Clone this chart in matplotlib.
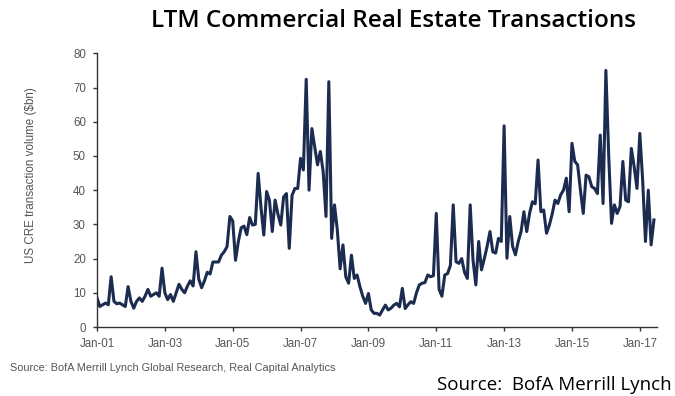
import matplotlib
matplotlib.use("Agg")
import matplotlib.pyplot as plt

# Monthly LTM US commercial real estate transaction volume ($bn), Jan-2001 onward
volume = [
    # 2001
    8.5, 6.0, 6.5, 7.0, 6.5, 14.7, 7.5, 6.8, 7.0, 6.5, 6.0, 11.8,
    # 2002
    7.5, 5.5, 7.5, 8.5, 7.5, 9.0, 11.0, 9.0, 9.5, 10.0, 9.0, 17.2,
    # 2003
    10.0, 8.0, 9.5, 7.5, 10.0, 12.5, 11.0, 10.0, 12.0, 13.5, 12.0, 22.0,
    # 2004
    14.0, 11.5, 13.5, 16.0, 15.5, 19.0, 19.0, 19.0, 21.0, 22.0, 23.5, 32.3,
    # 2005
    31.0, 19.5, 25.0, 29.0, 29.5, 27.0, 32.0, 29.8, 30.0, 44.9, 35.0, 26.9,
    # 2006
    39.6, 37.0, 27.9, 37.1, 33.0, 29.8, 38.0, 39.0, 23.0, 38.5, 40.5, 40.5,
    # 2007
    49.3, 45.9, 72.4, 40.0, 58.0, 52.6, 47.4, 51.3, 45.4, 32.3, 71.7, 25.9,
    # 2008
    35.7, 28.4, 17.0, 24.0, 14.7, 12.8, 21.0, 14.2, 15.2, 11.8, 9.0, 6.9,
    # 2009
    9.8, 5.0, 4.0, 4.0, 3.5, 5.0, 6.4, 5.0, 5.5, 6.4, 6.9, 5.9,
    # 2010
    11.3, 5.4, 6.5, 7.4, 6.9, 10.0, 12.3, 12.8, 13.0, 15.2, 14.7, 15.0,
    # 2011
    33.2, 11.0, 9.0, 15.2, 15.6, 18.0, 35.7, 19.1, 18.6, 20.0, 16.0, 14.2,
    # 2012
    35.7, 19.6, 12.3, 25.0, 16.7, 20.0, 23.6, 27.9, 22.0, 21.6, 25.9, 25.0,
    # 2013
    58.8, 20.1, 32.3, 23.6, 21.1, 25.0, 27.9, 33.7, 27.9, 33.2, 36.6, 36.0,
    # 2014
    48.8, 33.7, 34.2, 27.4, 29.8, 33.0, 37.1, 36.1, 38.6, 40.0, 43.5, 33.7,
    # 2015
    53.7, 48.4, 47.4, 40.0, 33.2, 44.4, 43.9, 41.0, 40.5, 39.0, 56.1, 36.1,
    # 2016
    75.0, 50.0, 30.3, 35.7, 33.2, 35.2, 48.4, 37.1, 36.6, 52.2, 46.9, 40.5,
    # 2017
    56.6, 43.0, 25.0, 40.0, 24.0, 31.3,
]
month_index = list(range(len(volume)))

tick_months = [0, 24, 48, 72, 96, 120, 144, 168, 192]
tick_labels = ["Jan-01", "Jan-03", "Jan-05", "Jan-07", "Jan-09",
               "Jan-11", "Jan-13", "Jan-15", "Jan-17"]
y_ticks = [0, 10, 20, 30, 40, 50, 60, 70, 80]

line_color = "#1c2c50"
grey = "#555555"

fig = plt.figure(figsize=(6.75, 3.96), dpi=100)
ax = fig.add_axes([0.1437, 0.1742, 0.8293, 0.6912])

ax.plot(month_index, volume, color=line_color, lw=2.2, solid_joinstyle="round")

ax.set_xlim(0, 198)
ax.set_ylim(0, 80)
ax.set_yticks(y_ticks)
ax.set_xticks(tick_months)
ax.set_xticklabels(tick_labels)

for side in ("top", "right"):
    ax.spines[side].set_visible(False)
for side in ("left", "bottom"):
    ax.spines[side].set_color("#333333")
    ax.spines[side].set_linewidth(1.0)

ax.tick_params(axis="both", direction="out", length=3, width=1.0,
               color="#333333", labelcolor=grey, labelsize=8.3)
ax.tick_params(axis="x", pad=5)
ax.tick_params(axis="y", pad=5)
for lbl in ax.get_xticklabels() + ax.get_yticklabels():
    lbl.set_fontfamily("Liberation Sans")

ax.set_ylabel("US CRE transaction volume ($bn)", color=grey, fontsize=8.4,
              family="Liberation Sans")
ax.yaxis.set_label_coords(-0.108, 0.555)

fig.text(0.583, 0.946, "LTM Commercial Real Estate Transactions",
         ha="center", va="center", fontsize=17.5, color="black",
         family="Open Sans", fontweight="semibold")

fig.text(0.015, 0.070, "Source: BofA Merrill Lynch Global Research, Real Capital Analytics",
         ha="left", va="center", fontsize=7.8, color=grey, family="Liberation Sans")

fig.text(0.995, 0.028, "Source:  BofA Merrill Lynch",
         ha="right", va="center", fontsize=13.5, color="black", family="Open Sans")

fig.savefig("out.png", dpi=100)
